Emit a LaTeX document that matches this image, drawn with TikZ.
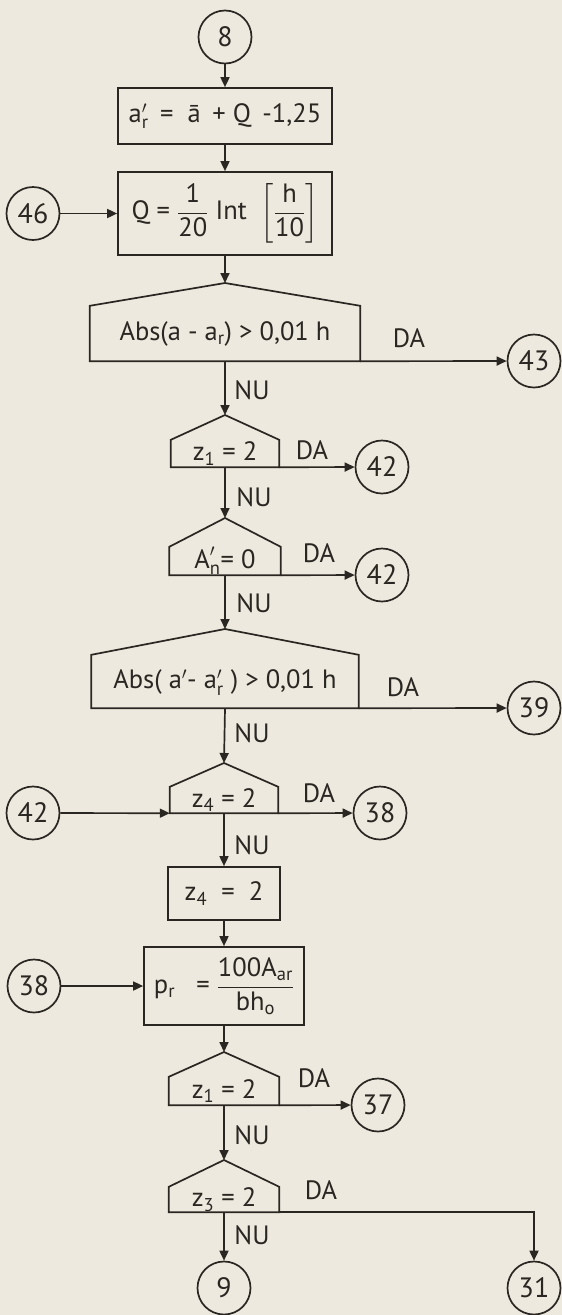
\documentclass[tikz,border=0pt]{standalone}
\usepackage{amsmath}
\usepackage{fontspec}
\setmainfont{PT Sans}
\usetikzlibrary{arrows.meta}
\definecolor{ink}{HTML}{2A2622}
\definecolor{paper}{HTML}{EEE9DE}
\tikzset{
  arr/.style={draw=ink, line width=1.7pt, -{Triangle[length=10pt,width=9pt]}},
  ln/.style={draw=ink, line width=1.7pt, line join=miter},
  conn/.style={circle, draw=ink, line width=1.7pt, minimum size=53pt, inner sep=0pt, text=ink, font=\fontsize{28}{32}\selectfont},
  proc/.style={rectangle, draw=ink, line width=1.7pt, inner sep=0pt, text=ink},
  dec/.style={rectangle, draw=none, inner sep=0pt, text=ink},
  lab/.style={text=ink, inner sep=0pt},
}
\begin{document}
\begin{tikzpicture}[x=1pt,y=-1pt, font=\fontsize{26.5}{30}\selectfont]
\fill[paper] (0,0) rectangle (562,1315);
\useasboundingbox (0,0) rectangle (562,1315);

% connectors (circles)
\node[conn] (c8) at (225,37) {8};
\node[conn] (c46) at (33,213.5) {46};
\node[conn] (c43) at (534,361) {43};
\node[conn] (c42a) at (382,467) {42};
\node[conn] (c42b) at (382,575) {42};
\node[conn] (c39) at (534,708) {39};
\node[conn] (c42c) at (33,813) {42};
\node[conn] (c38a) at (380,813) {38};
\node[conn] (c38b) at (34,986) {38};
\node[conn] (c37) at (378,1105) {37};
\node[conn] (c9) at (224,1288) {9};
\node[conn] (c31) at (534,1288) {31};

% process boxes
\node[proc, minimum width=214pt, minimum height=56pt] (b1) at (225,116)
  {$\text{a}'_{\text{r}}$\ \,=\ \ ā\ \,+ Q\ \,-1,25};
\node[proc, minimum width=214pt, minimum height=83pt] (b2) at (225,213.5)
  {Q = $\dfrac{\text{1}}{\text{20}}$\ Int\ \ $\left[\dfrac{\text{h}}{\text{10}}\right]$};
\node[proc, minimum width=112pt, minimum height=53pt] (b3) at (224,893.5)
  {z$_{\text{4}}$\ \ =\ \ 2};
\node[proc, minimum width=160pt, minimum height=78pt] (b4) at (224,986)
  {p$_{\text{r}}$\ \ \ = $\dfrac{\text{100A}_{\text{ar}}}{\text{bh}_{\text{o}}}$};

% decisions (house shapes)
\node[dec, minimum width=270pt, minimum height=55pt, text depth=4pt] (d1) at (225,333.5)
  {Abs(a - a$_{\text{r}}$) > 0,01 h};
\coordinate (d1t) at (225,283);
\node[dec, minimum width=108pt, minimum height=27pt] (d2) at (225,453.5)
  {z$_{\text{1}}$ = 2};
\coordinate (d2t) at (225,415);
\node[dec, minimum width=111pt, minimum height=28pt] (d3) at (225,561)
  {$\text{A}'_{\text{n}}$= 0};
\coordinate (d3t) at (225,518);
\node[dec, minimum width=267pt, minimum height=53pt, text depth=4pt] (d4) at (225,681.5)
  {Abs( a$'$- $\text{a}'_{\text{r}}$ ) > 0,01 h};
\coordinate (d4t) at (225,629);
\node[dec, minimum width=108pt, minimum height=26pt] (d5) at (224,800)
  {z$_{\text{4}}$ = 2};
\coordinate (d5t) at (224,763);
\node[dec, minimum width=110pt, minimum height=28pt] (d6) at (224,1091)
  {z$_{\text{1}}$ = 2};
\coordinate (d6t) at (224,1052);
\node[dec, minimum width=110pt, minimum height=25pt] (d7) at (224,1199.5)
  {z$_{\text{3}}$ = 2};
\coordinate (d7t) at (224,1160);

\foreach \d in {d1,d2,d3,d4,d5,d6,d7}{
  \draw[ln] (\d.south west) -- (\d.north west) -- (\d t) -- (\d.north east) -- (\d.south east) -- cycle;
}

% labels
\node[lab] (da1) at (409,338) {DA};
\node[lab] (da2) at (312,450) {DA};
\node[lab] (da3) at (319,553) {DA};
\node[lab] (da4) at (403,687) {DA};
\node[lab] (da5) at (319,793) {DA};
\node[lab] (da6) at (314,1078) {DA};
\node[lab] (da7) at (321,1190) {DA};
\node[lab] (nu1) at (252,390) {NU};
\node[lab] (nu2) at (254,497) {NU};
\node[lab] (nu3) at (254,603) {NU};
\node[lab] (nu4) at (252,733) {NU};
\node[lab] (nu5) at (252,845) {NU};
\node[lab] (nu6) at (252,1135) {NU};
\node[lab] (nu7) at (252,1235) {NU};

% flow
\draw[arr] (c8) -- (b1);
\draw[arr] (b1) -- (b2);
\draw[arr] (c46) -- (b2);
\draw[arr] (b2) -- (d1t);
\draw[arr] (d1.south east) -- (c43);
\draw[arr] (d1.south -| d1t) -- (d2t);
\draw[arr] (d2.south east) -- (c42a);
\draw[arr] (d2.south) -- (d3t);
\draw[arr] (d3.south east) -- (c42b);
\draw[arr] (d3.south) -- (d4t);
\draw[arr] (d4.south east) -- (c39);
\draw[arr] (d4.south) -- (d5t);
\draw[arr] (c42c) -- (d5.south west);
\draw[arr] (d5.south east) -- (c38a);
\draw[arr] (d5.south) -- (b3);
\draw[arr] (b3) -- (b4);
\draw[arr] (c38b) -- (b4);
\draw[arr] (b4) -- (d6t);
\draw[arr] (d6.south east) -- (c37);
\draw[arr] (d6.south) -- (d7t);
\draw[arr] (d7.south east) -| (c31);
\draw[arr] (d7.south) -- (c9);
\end{tikzpicture}
\end{document}
